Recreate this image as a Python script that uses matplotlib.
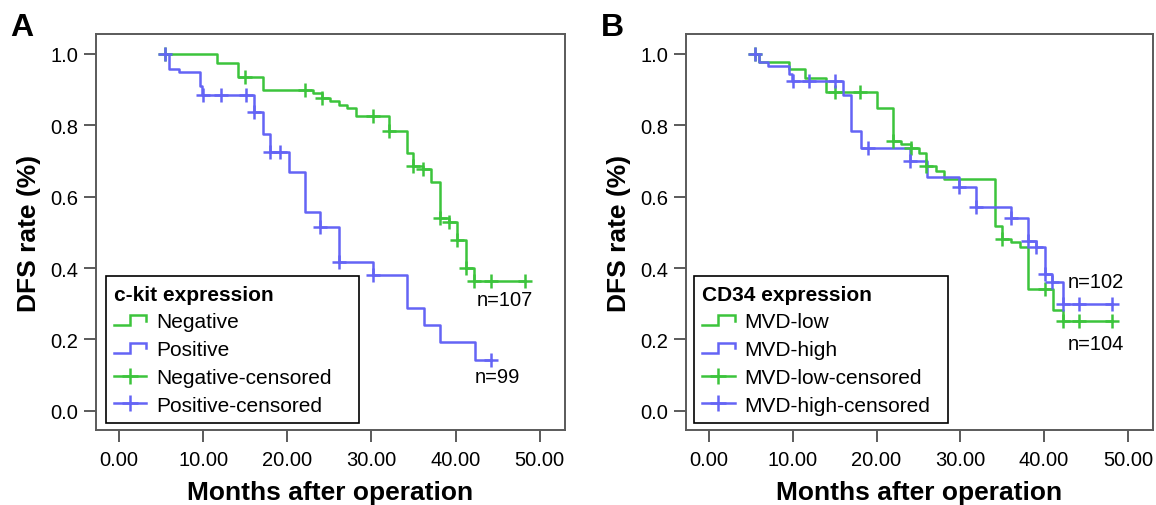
import numpy as np
import matplotlib
matplotlib.use("Agg")
import matplotlib.pyplot as plt
from matplotlib.lines import Line2D
from matplotlib.legend_handler import HandlerBase

plt.rcParams["font.family"] = ["Liberation Sans", "DejaVu Sans"]

GREEN = "#3cc43c"
BLUE = "#6464f5"
FRAME = "#5a5a5a"

# --- panel A: c-kit expression ---
a_neg_t = [5.5, 11.6, 14.1, 17.1, 23.1, 24.1, 25.1, 26.1, 27.1, 28.2, 32.1, 34.2,
           35.0, 36.1, 37.1, 38.1, 39.2, 40.2, 41.2, 42.2, 48.3]
a_neg_s = [1.0, 0.975, 0.935, 0.898, 0.890, 0.876, 0.867, 0.857, 0.850, 0.825, 0.783, 0.722,
           0.687, 0.677, 0.642, 0.541, 0.530, 0.480, 0.401, 0.365, 0.365]
a_neg_c = [5.5, 15.0, 22.1, 24.1, 30.2, 32.1, 35.0, 36.1, 38.1, 39.2, 40.2, 41.2,
           42.2, 44.2, 48.3]

a_pos_t = [5.5, 6.0, 7.1, 9.6, 9.9, 16.0, 17.1, 18.0, 20.2, 22.1, 23.9, 26.1, 30.2,
           34.2, 36.2, 38.2, 42.3, 44.2]
a_pos_s = [1.0, 0.959, 0.949, 0.910, 0.886, 0.837, 0.775, 0.726, 0.670, 0.558, 0.514, 0.417,
           0.381, 0.288, 0.241, 0.192, 0.143, 0.143]
a_pos_c = [5.5, 10.0, 12.1, 15.1, 16.0, 18.0, 19.1, 23.9, 26.1, 30.2, 44.2]

# --- panel B: CD34 expression ---
b_low_t = [5.5, 6.0, 9.6, 11.5, 14.0, 20.0, 22.0, 22.9, 24.1, 25.1, 25.9, 27.1, 28.1,
           34.1, 35.0, 36.1, 37.1, 38.1, 41.1, 42.2, 48.1]
b_low_s = [1.0, 0.978, 0.959, 0.932, 0.893, 0.848, 0.757, 0.748, 0.736, 0.722, 0.687, 0.673,
           0.650, 0.519, 0.482, 0.472, 0.460, 0.340, 0.281, 0.251, 0.251]
b_low_c = [5.5, 15.1, 18.0, 22.0, 24.1, 25.9, 35.0, 40.1, 42.2, 44.2, 48.1]

b_high_t = [5.5, 6.0, 7.1, 9.6, 9.9, 16.0, 17.0, 18.1, 24.0, 26.0, 29.9, 31.9, 36.1,
            38.1, 39.0, 40.1, 41.0, 42.2, 48.1]
b_high_s = [1.0, 0.977, 0.967, 0.944, 0.925, 0.885, 0.785, 0.736, 0.701, 0.655, 0.627, 0.571,
            0.541, 0.477, 0.459, 0.384, 0.360, 0.300, 0.300]
b_high_c = [5.5, 10.0, 12.0, 15.1, 19.0, 24.0, 29.9, 31.9, 36.1, 38.1, 39.0, 40.1, 41.0,
            42.2, 44.2, 48.1]

x_ticks = [0, 10, 20, 30, 40, 50]
y_ticks = [0.0, 0.2, 0.4, 0.6, 0.8, 1.0]


class StepHandler(HandlerBase):
    # little step glyph used by SPSS legends
    def create_artists(self, legend, orig_handle, xdescent, ydescent,
                       width, height, fontsize, trans):
        x = np.array([0.0, 0.5, 0.5, 1.0, 1.0]) * width - xdescent
        y = np.array([0.15, 0.15, 0.85, 0.85, 0.45]) * height - ydescent
        ln = Line2D(x, y, color=orig_handle.get_color(),
                    lw=orig_handle.get_linewidth(), solid_joinstyle="miter")
        ln.set_transform(trans)
        return [ln]


def surv_at(times, surv, c):
    idx = np.searchsorted(np.array(times), np.array(c), side="right") - 1
    return np.array(surv)[idx]


def km_panel(ax, curves, title, labels, notes, leg_box):
    handles = []
    for (t, s, c, col) in curves:
        ln, = ax.step(t, s, where="post", color=col, lw=1.8)
        handles.append(ln)
    cens = []
    for (t, s, c, col) in curves:
        ax.plot(c, surv_at(t, s, c), ls="none", marker="+", ms=9.5, mew=1.8, color=col)
        cens.append(Line2D([], [], color=col, lw=1.8, marker="+", ms=11, mew=1.8))

    ax.set_xlim(-2.74, 53.0)
    ax.set_ylim(-0.054, 1.056)
    ax.set_xticks(x_ticks)
    ax.set_xticklabels([f"{v:.2f}" for v in x_ticks])
    ax.set_yticks(y_ticks)
    ax.set_yticklabels([f"{v:.1f}" for v in y_ticks])
    ax.tick_params(direction="out", length=8.5, width=1.4, color=FRAME,
                   labelsize=14.5, pad=4)
    ax.tick_params(axis="x", pad=6)
    for sp in ax.spines.values():
        sp.set_color(FRAME)
        sp.set_linewidth(1.4)

    ax.set_xlabel("Months after operation", fontsize=19, fontweight="bold")
    ax.set_ylabel("DFS rate (%)", fontsize=19, fontweight="bold")
    ax.xaxis.set_label_coords(0.5, -0.125)
    ax.yaxis.set_label_coords(-0.118, 0.5)

    leg = ax.legend(handles + cens, labels, title=title, loc="lower left",
                    bbox_to_anchor=leg_box, mode="expand", borderaxespad=0,
                    fontsize=15, title_fontproperties={"weight": "bold", "size": 15},
                    alignment="left", fancybox=False, framealpha=1,
                    edgecolor="black", handlelength=1.55, handletextpad=0.45,
                    labelspacing=0.42, borderpad=0.4,
                    handler_map={handles[0]: StepHandler(), handles[1]: StepHandler()})
    leg.get_frame().set_linewidth(1.2)

    for (x, y, txt) in notes:
        ax.text(x, y, txt, fontsize=14.5, ha="center", va="center")


fig = plt.figure(figsize=(11.56, 5.06), dpi=100)
axA = fig.add_axes([0.0830, 0.1482, 0.4057, 0.7826])
axB = fig.add_axes([0.5934, 0.1482, 0.4040, 0.7826])

km_panel(axA,
         [(a_neg_t, a_neg_s, a_neg_c, GREEN), (a_pos_t, a_pos_s, a_pos_c, BLUE)],
         "c-kit expression",
         ["Negative", "Positive", "Negative-censored", "Positive-censored"],
         [(45.9, 0.312, "n=107"), (45.0, 0.095, "n=99")],
         (0.021, 0.018, 0.539, 0.3))
km_panel(axB,
         [(b_low_t, b_low_s, b_low_c, GREEN), (b_high_t, b_high_s, b_high_c, BLUE)],
         "CD34 expression",
         ["MVD-low", "MVD-high", "MVD-low-censored", "MVD-high-censored"],
         [(46.2, 0.363, "n=102"), (46.2, 0.188, "n=104")],
         (0.017, 0.018, 0.544, 0.3))

fig.text(10 / 1156, 1 - 36 / 506, "A", fontsize=23, fontweight="bold", va="baseline")
fig.text(601 / 1156, 1 - 36 / 506, "B", fontsize=23, fontweight="bold", va="baseline")

fig.savefig("out.png", dpi=100)
